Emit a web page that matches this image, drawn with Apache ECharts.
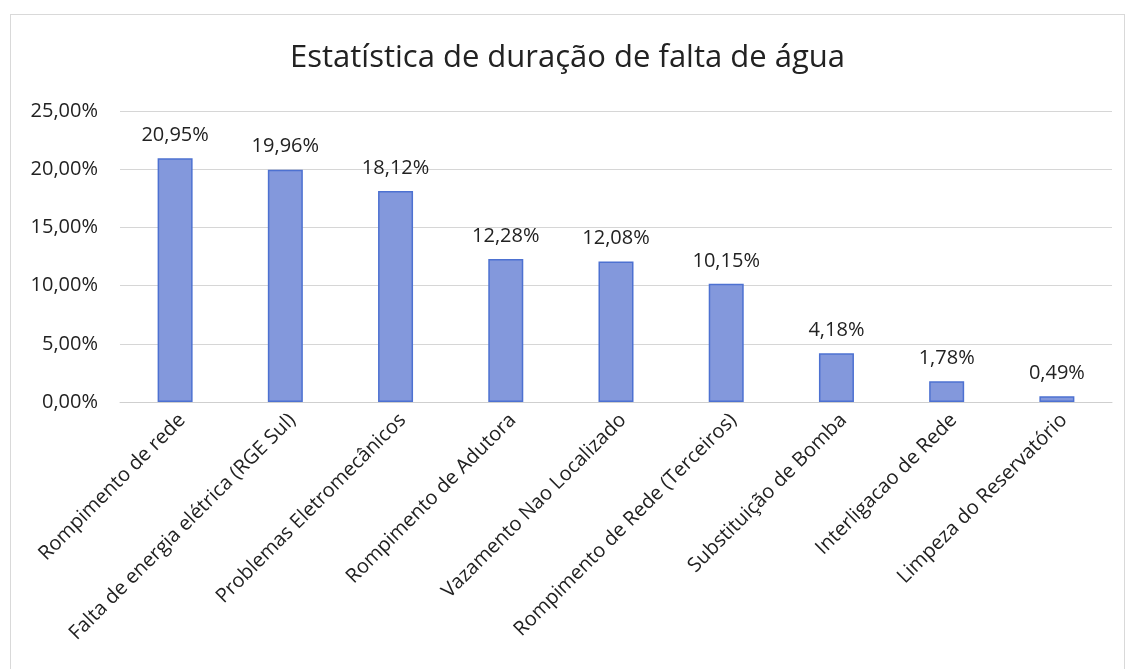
<!DOCTYPE html>
<html>
<head>
<meta charset="utf-8">
<script src="https://cdn.jsdelivr.net/npm/echarts@6/dist/echarts.min.js"></script>
<style>
html, body { margin: 0; padding: 0; background: #fff; }
#frame { position: absolute; left: 10px; top: 14px; width: 1115px; height: 660px; border: 1px solid #d9d9d9; box-sizing: border-box; }
#main { position: absolute; left: 0; top: 0; width: 1135px; height: 669px; }
</style>
</head>
<body>
<div id="frame"></div>
<div id="main"></div>
<script>
// categorias e valores (%)
var categories = ['Rompimento de rede', 'Falta de energia elétrica (RGE Sul)', 'Problemas Eletromecânicos',
    'Rompimento de Adutora', 'Vazamento Nao Localizado', 'Rompimento de Rede (Terceiros)',
    'Substituição de Bomba', 'Interligacao de Rede', 'Limpeza do Reservatório'];
var values = [20.95, 19.96, 18.12, 12.28, 12.08, 10.15, 4.18, 1.78, 0.49];

var fmt = function (v) { return v.toFixed(2).replace('.', ',') + '%'; };

var chart = echarts.init(document.getElementById('main'));
chart.setOption({
    animation: false,
    title: {
        text: 'Estatística de duração de falta de água',
        left: 'center',
        top: 38,
        textStyle: { fontFamily: 'Open Sans', fontSize: 31, fontWeight: 'normal', color: '#222' }
    },
    grid: { left: 120, right: 23, top: 111, bottom: 267 },
    xAxis: {
        type: 'category',
        data: categories,
        axisLine: { lineStyle: { color: '#cfcfcf' } },
        axisTick: { show: false },
        axisLabel: {
            rotate: 45, interval: 0, margin: 8, verticalAlign: 'top',
            fontFamily: 'Open Sans', fontSize: 20, color: '#222'
        }
    },
    yAxis: {
        type: 'value',
        min: 0, max: 25, interval: 5,
        axisLabel: {
            formatter: fmt, margin: 22,
            fontFamily: 'Open Sans', fontSize: 20, color: '#222'
        },
        splitLine: { lineStyle: { color: '#d6d6d6' } }
    },
    series: [{
        type: 'bar',
        data: values,
        barWidth: 35,
        itemStyle: { color: '#8398dc', borderColor: '#4d71d1', borderWidth: 1.5 },
        label: {
            show: true, position: 'top', distance: 13,
            formatter: function (p) { return fmt(p.value); },
            fontFamily: 'Open Sans', fontSize: 20, color: '#222'
        }
    }]
});
</script>
</body>
</html>
